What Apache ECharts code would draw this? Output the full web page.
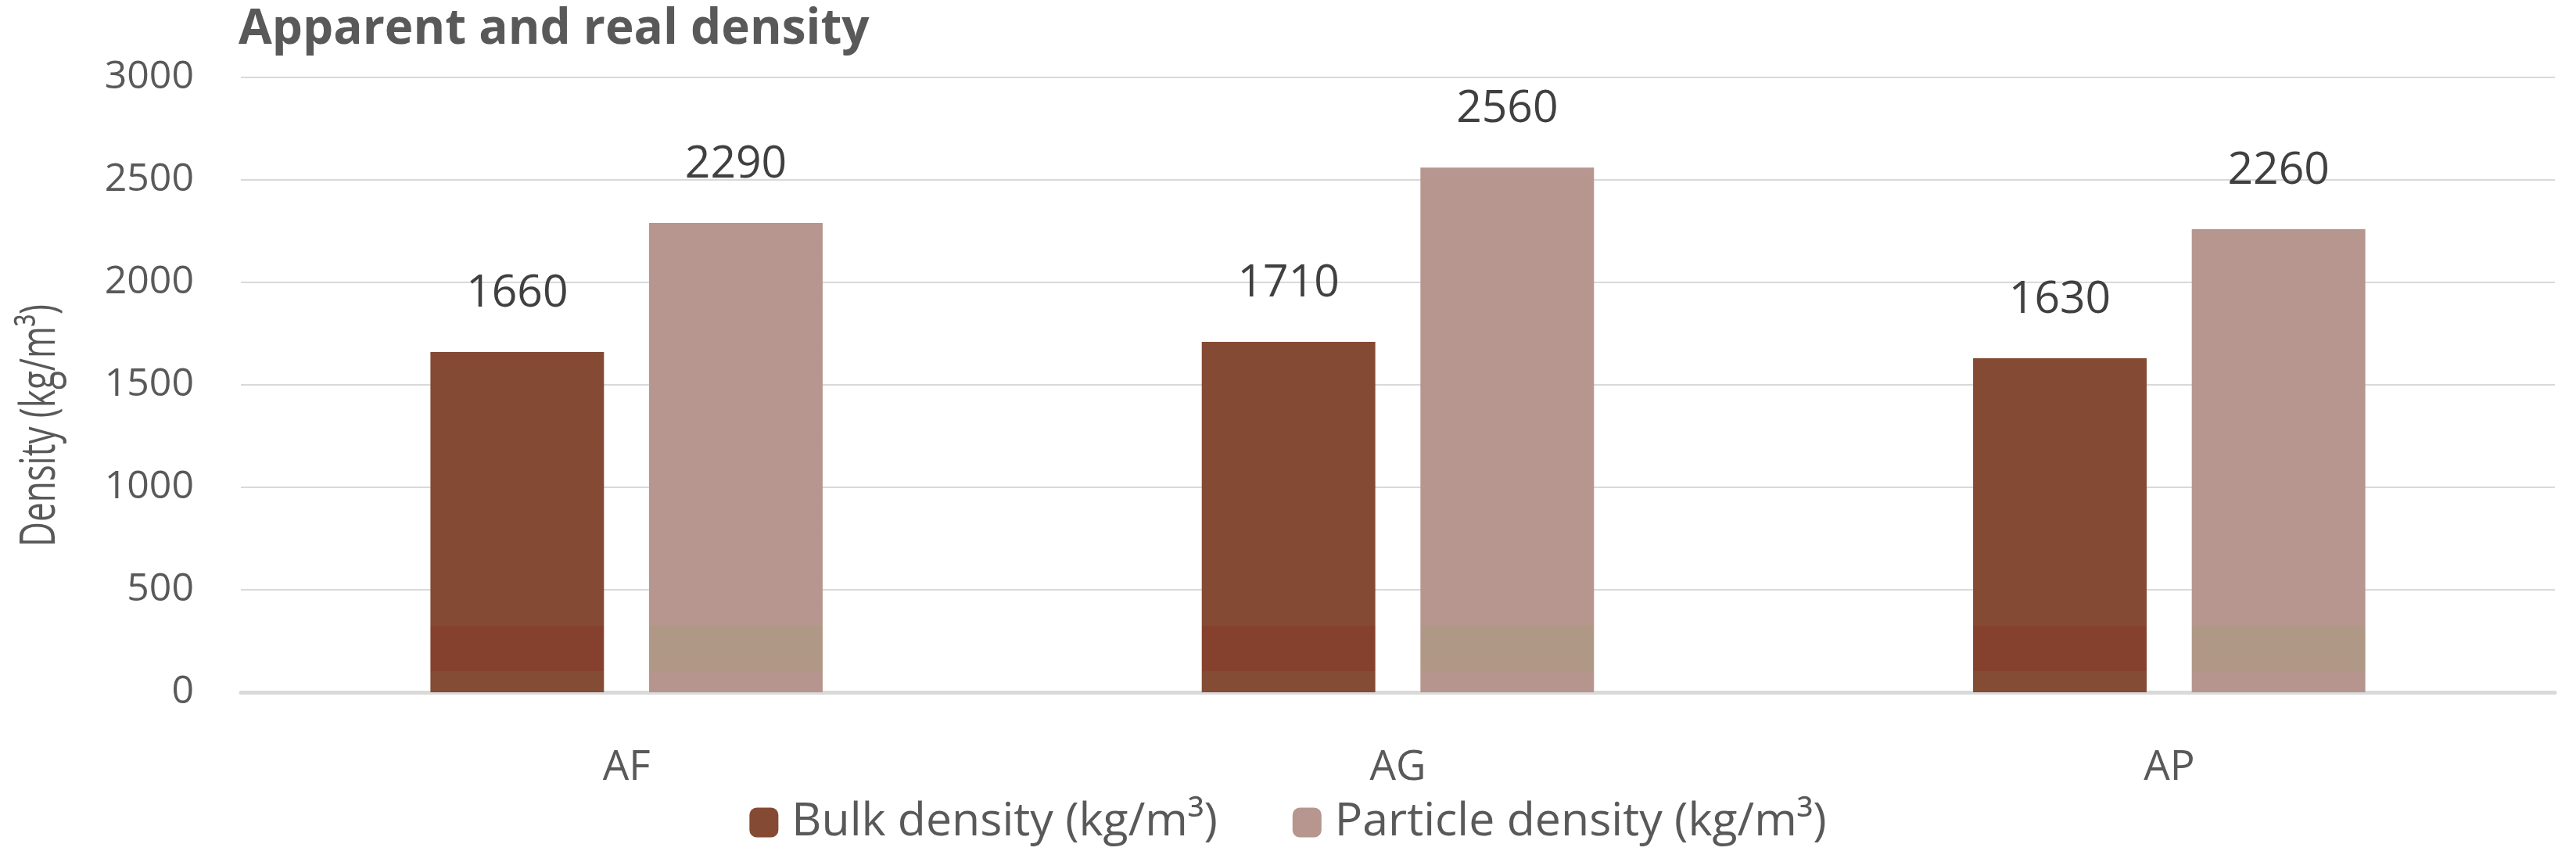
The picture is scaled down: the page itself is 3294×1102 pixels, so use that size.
<!DOCTYPE html>
<html>
<head>
<meta charset="utf-8">
<title>Apparent and real density</title>
<script src="https://cdn.jsdelivr.net/npm/echarts@6/dist/echarts.min.js"></script>
<style>
  html, body { margin: 0; padding: 0; background: #fff; }
  #main { width: 3294px; height: 1102px; }
</style>
</head>
<body>
<div id="main"></div>
<script>
// data
var categories = ['AF', 'AG', 'AP'];
var bulkDensity = [1660, 1710, 1630];
var particleDensity = [2290, 2560, 2260];
var seriesNames = ['Bulk density (kg/m\u00b3)', 'Particle density (kg/m\u00b3)'];
var yAxisName = 'Density (kg/m\u00b3)';
var yMax = 3000;
var yStep = 500;

var sans = "'Open Sans', sans-serif";

// the bars carry a faint horizontal band near the bottom (page coords)
function banded(main, band, low) {
  return {
    type: 'linear', x: 0, y: 0, x2: 0, y2: 1102, global: true,
    colorStops: [
      { offset: 0, color: main },
      { offset: 800 / 1102, color: main },
      { offset: 800 / 1102, color: band },
      { offset: 858 / 1102, color: band },
      { offset: 858 / 1102, color: low },
      { offset: 1, color: low }
    ]
  };
}

var myChart = echarts.init(document.getElementById('main'));
myChart.setOption({
  animation: false,
  title: {
    text: 'Apparent and real density',
    left: 300,
    top: 2,
    textStyle: { fontFamily: sans, fontWeight: 'bold', fontSize: 62, color: '#595959' }
  },
  legend: {
    bottom: 16,
    left: 'center',
    itemWidth: 37,
    itemHeight: 38,
    itemGap: 96,
    textStyle: { fontFamily: sans, fontSize: 59, color: '#595959', padding: [0, 0, 0, 12] },
    data: [
      { name: seriesNames[0], itemStyle: { color: '#854A33' } },
      { name: seriesNames[1], itemStyle: { color: '#B6968E' } }
    ]
  },
  // y axis title, drawn a bit taller than wide like the original
  graphic: [{
    type: 'text',
    x: 52,
    y: 544,
    rotation: Math.PI / 2,
    scaleY: 1.4,
    style: {
      text: yAxisName,
      fontFamily: sans,
      fontSize: 44,
      fill: '#595959',
      align: 'center',
      verticalAlign: 'middle'
    }
  }],
  grid: {
    left: 308,
    right: 27,
    top: 99,
    bottom: 217
  },
  xAxis: {
    type: 'category',
    data: categories,
    axisTick: { show: false },
    axisLine: { lineStyle: { color: '#D9D9D9', width: 5 } },
    axisLabel: { fontFamily: sans, fontSize: 53, color: '#595959', margin: 70 }
  },
  yAxis: {
    type: 'value',
    min: 0,
    max: yMax,
    interval: yStep,
    axisLine: { show: false },
    axisTick: { show: false },
    splitLine: { lineStyle: { color: '#D9D9D9', width: 2 } },
    axisLabel: {
      fontFamily: sans, fontSize: 50, color: '#595959', margin: 60,
      formatter: function (v) { return String(v); }
    }
  },
  series: [
    {
      name: seriesNames[0],
      type: 'bar',
      data: bulkDensity,
      barWidth: '22.5%',
      barGap: '26%',
      itemStyle: { color: banded('#854A33', '#86412E', '#844B35') },
      label: {
        show: true, position: 'top', distance: 46,
        fontFamily: sans, fontSize: 57, color: '#404040'
      }
    },
    {
      name: seriesNames[1],
      type: 'bar',
      data: particleDensity,
      barWidth: '22.5%',
      barGap: '26%',
      itemStyle: { color: banded('#B6968E', '#B09886', '#B5958D') },
      label: {
        show: true, position: 'top', distance: 46,
        fontFamily: sans, fontSize: 57, color: '#404040'
      }
    }
  ]
});
</script>
</body>
</html>
